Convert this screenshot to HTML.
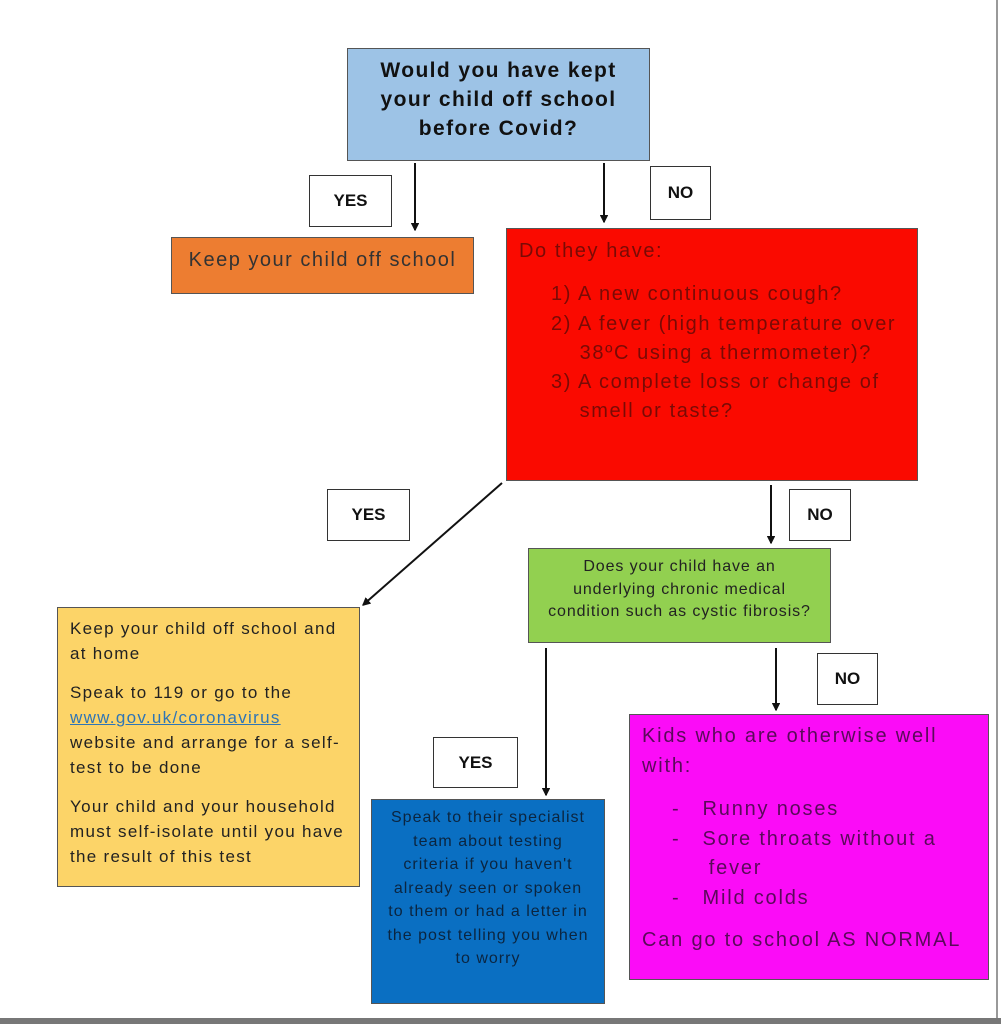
<!DOCTYPE html>
<html><head><meta charset="utf-8"><style>
body{margin:0;width:1001px;height:1024px;background:#fff;position:relative;overflow:hidden;font-family:"Liberation Sans",sans-serif}
.b{position:absolute;box-sizing:border-box;border:1.5px solid #555;white-space:nowrap}
.l{position:absolute;box-sizing:border-box;border:1.5px solid #333;background:#fff;font-weight:bold;font-size:17px;display:flex;align-items:center;justify-content:center;color:#111}
</style></head><body>
<div class="b" style="left:347px;top:48px;width:303px;height:113px;background:#9dc3e6;font-weight:bold;font-size:21px;text-align:center;line-height:29px;padding-top:7px;color:#111;letter-spacing:1.4px">Would you have kept<br>your child off school<br>before Covid?</div>
<div class="l" style="left:309px;top:175px;width:83px;height:52px">YES</div>
<div class="l" style="left:650px;top:166px;width:61px;height:54px">NO</div>
<div class="b" style="left:171px;top:237px;width:303px;height:57px;background:#ed7d31;font-size:20px;color:#333;text-align:center;line-height:45px;letter-spacing:1.5px">Keep your child off school</div>
<div class="b" style="left:506px;top:228px;width:412px;height:253px;background:#fa0a00;color:#7a0a05;font-size:20px;line-height:29.3px;padding:8px 12px;letter-spacing:1.6px">Do they have:<div style="padding-left:32px;margin-top:14px">1) A new continuous cough?<br>2) A fever (high temperature over<br>&nbsp;&nbsp;&nbsp;&nbsp;38ºC using a thermometer)?<br>3) A complete loss or change of<br>&nbsp;&nbsp;&nbsp;&nbsp;smell or taste?</div></div>
<div class="l" style="left:327px;top:489px;width:83px;height:52px">YES</div>
<div class="l" style="left:789px;top:489px;width:62px;height:52px">NO</div>
<div class="b" style="left:528px;top:548px;width:303px;height:95px;background:#92d050;font-size:16px;color:#222;text-align:center;line-height:22.5px;padding-top:7px;letter-spacing:0.9px">Does your child have an<br>underlying chronic medical<br>condition such as cystic fibrosis?</div>
<div class="b" style="left:57px;top:607px;width:303px;height:280px;background:#fcd468;font-size:17px;color:#222;line-height:25px;padding:8px 12px;letter-spacing:1.3px">Keep your child off school and<br>at home<div style="margin-top:14px">Speak to 119 or go to the<br><span style="color:#2e75b6;text-decoration:underline">www.gov.uk/coronavirus</span><br>website and arrange for a self-<br>test to be done</div><div style="margin-top:14px">Your child and your household<br>must self-isolate until you have<br>the result of this test</div></div>
<div class="l" style="left:817px;top:653px;width:61px;height:52px">NO</div>
<div class="l" style="left:433px;top:737px;width:85px;height:51px">YES</div>
<div class="b" style="left:371px;top:799px;width:234px;height:205px;background:#0a6fc2;font-size:16px;color:#0b2540;text-align:center;line-height:23.5px;padding-top:6px;letter-spacing:1px">Speak to their specialist<br>team about testing<br>criteria if you haven't<br>already seen or spoken<br>to them or had a letter in<br>the post telling you when<br>to worry</div>
<div class="b" style="left:629px;top:714px;width:360px;height:266px;background:#fb0cf7;font-size:20px;color:#5a0a5a;line-height:29.5px;padding:7px 12px;letter-spacing:1.8px">Kids who are otherwise well<br>with:<div style="margin-top:14px;padding-left:30px">-&nbsp;&nbsp;&nbsp;Runny noses<br>-&nbsp;&nbsp;&nbsp;Sore throats without a<br>&nbsp;&nbsp;&nbsp;&nbsp;&nbsp;fever<br>-&nbsp;&nbsp;&nbsp;Mild colds</div><div style="margin-top:13px">Can go to school AS NORMAL</div></div>
<svg width="1001" height="1024" style="position:absolute;left:0;top:0" fill="none" stroke="#111" stroke-width="2">
<defs><marker id="a" markerWidth="8" markerHeight="8" refX="7" refY="4" orient="auto" markerUnits="userSpaceOnUse"><path d="M0,0 L8,4 L0,8z" fill="#111" stroke="none" transform="scale(1.2) translate(-1,-0.7)"/></marker></defs>
<line x1="415" y1="163" x2="415" y2="230" marker-end="url(#a)"/>
<line x1="604" y1="163" x2="604" y2="222" marker-end="url(#a)"/>
<line x1="502" y1="483" x2="363" y2="605" marker-end="url(#a)"/>
<line x1="771" y1="485" x2="771" y2="543" marker-end="url(#a)"/>
<line x1="546" y1="648" x2="546" y2="795" marker-end="url(#a)"/>
<line x1="776" y1="648" x2="776" y2="710" marker-end="url(#a)"/>
</svg>
<div style="position:absolute;left:0;top:1018px;width:1001px;height:6px;background:#777"></div>
<div style="position:absolute;left:996px;top:0;width:2px;height:1018px;background:#999"></div>
</body></html>
